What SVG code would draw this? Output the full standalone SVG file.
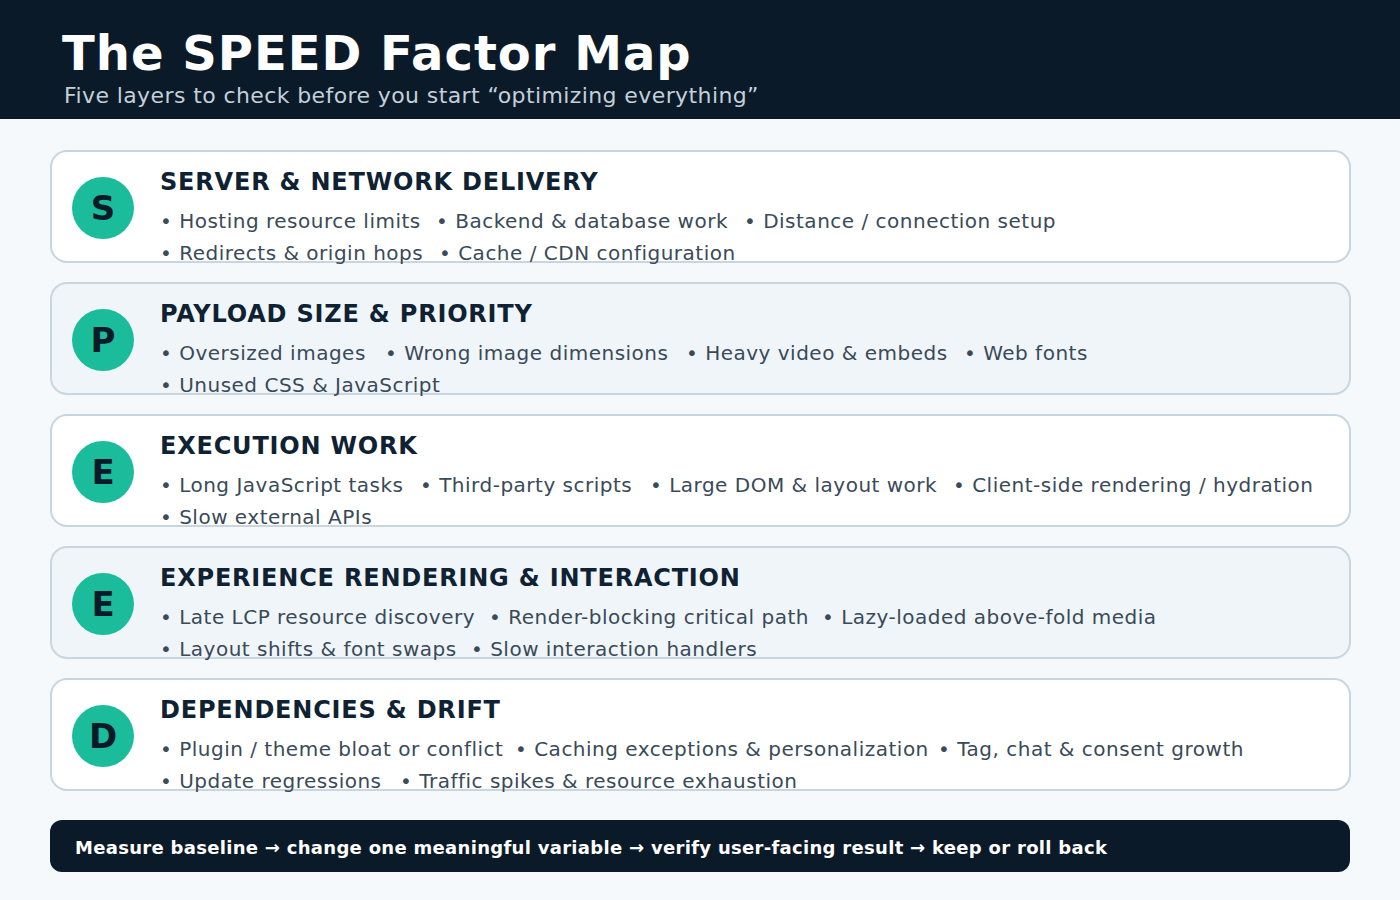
<svg xmlns="http://www.w3.org/2000/svg" width="1400" height="900" viewBox="0 0 1400 900">
<style>
text{font-family:"DejaVu Sans",sans-serif}
.card{stroke:#c9d6df;stroke-width:2}
.w{fill:#ffffff}.b{fill:#f0f5f9}
.circ{fill:#1abc9c}
.let{font-size:34px;font-weight:bold;fill:#0b1a28;text-anchor:middle}
.t{font-size:24px;font-weight:bold;fill:#0f2233;letter-spacing:0.8px}
.i{font-size:20px;fill:#3a4a58;letter-spacing:0.5px}
</style>
<rect width="1400" height="900" fill="#f6f9fb"/>
<rect width="1400" height="119" fill="#0b1a28"/>
<text x="62" y="70" font-size="48" font-weight="bold" fill="#ffffff" letter-spacing="1">The SPEED Factor Map</text>
<text x="64" y="103" font-size="22" fill="#c3cfd9" letter-spacing="0.4">Five layers to check before you start “optimizing everything”</text>
<g id="s"><rect class="card w" x="51" y="151" width="1299" height="111" rx="16"/><circle class="circ" cx="103" cy="208" r="31"/><text class="let" x="103" y="220">S</text>
<text class="t" x="160" y="190">SERVER &amp; NETWORK DELIVERY</text>
<text class="i" x="160" y="228">• Hosting resource limits</text><text class="i" x="436" y="228">• Backend &amp; database work</text><text class="i" x="744" y="228">• Distance / connection setup</text>
<text class="i" x="160" y="260">• Redirects &amp; origin hops</text><text class="i" x="439" y="260">• Cache / CDN configuration</text></g>
<g id="p"><rect class="card b" x="51" y="283" width="1299" height="111" rx="16"/><circle class="circ" cx="103" cy="340" r="31"/><text class="let" x="103" y="352">P</text>
<text class="t" x="160" y="322">PAYLOAD SIZE &amp; PRIORITY</text>
<text class="i" x="160" y="360">• Oversized images</text><text class="i" x="385" y="360">• Wrong image dimensions</text><text class="i" x="686" y="360">• Heavy video &amp; embeds</text><text class="i" x="964" y="360">• Web fonts</text>
<text class="i" x="160" y="392">• Unused CSS &amp; JavaScript</text></g>
<g id="e1"><rect class="card w" x="51" y="415" width="1299" height="111" rx="16"/><circle class="circ" cx="103" cy="472" r="31"/><text class="let" x="103" y="484">E</text>
<text class="t" x="160" y="454">EXECUTION WORK</text>
<text class="i" x="160" y="492">• Long JavaScript tasks</text><text class="i" x="420" y="492">• Third-party scripts</text><text class="i" x="650" y="492">• Large DOM &amp; layout work</text><text class="i" x="953" y="492">• Client-side rendering / hydration</text>
<text class="i" x="160" y="524">• Slow external APIs</text></g>
<g id="e2"><rect class="card b" x="51" y="547" width="1299" height="111" rx="16"/><circle class="circ" cx="103" cy="604" r="31"/><text class="let" x="103" y="616">E</text>
<text class="t" x="160" y="586">EXPERIENCE RENDERING &amp; INTERACTION</text>
<text class="i" x="160" y="624">• Late LCP resource discovery</text><text class="i" x="489" y="624">• Render-blocking critical path</text><text class="i" x="822" y="624">• Lazy-loaded above-fold media</text>
<text class="i" x="160" y="656">• Layout shifts &amp; font swaps</text><text class="i" x="471" y="656">• Slow interaction handlers</text></g>
<g id="d"><rect class="card w" x="51" y="679" width="1299" height="111" rx="16"/><circle class="circ" cx="103" cy="736" r="31"/><text class="let" x="103" y="748">D</text>
<text class="t" x="160" y="718">DEPENDENCIES &amp; DRIFT</text>
<text class="i" x="160" y="756">• Plugin / theme bloat or conflict</text><text class="i" x="515" y="756">• Caching exceptions &amp; personalization</text><text class="i" x="938" y="756">• Tag, chat &amp; consent growth</text>
<text class="i" x="160" y="788">• Update regressions</text><text class="i" x="400" y="788">• Traffic spikes &amp; resource exhaustion</text></g>
<g id="footer"><rect x="50" y="820" width="1300" height="52" rx="12" fill="#0b1a28"/>
<text x="75" y="854" font-size="18" font-weight="bold" fill="#ffffff" letter-spacing="0.3">Measure baseline → change one meaningful variable → verify user-facing result → keep or roll back</text></g>
</svg>
